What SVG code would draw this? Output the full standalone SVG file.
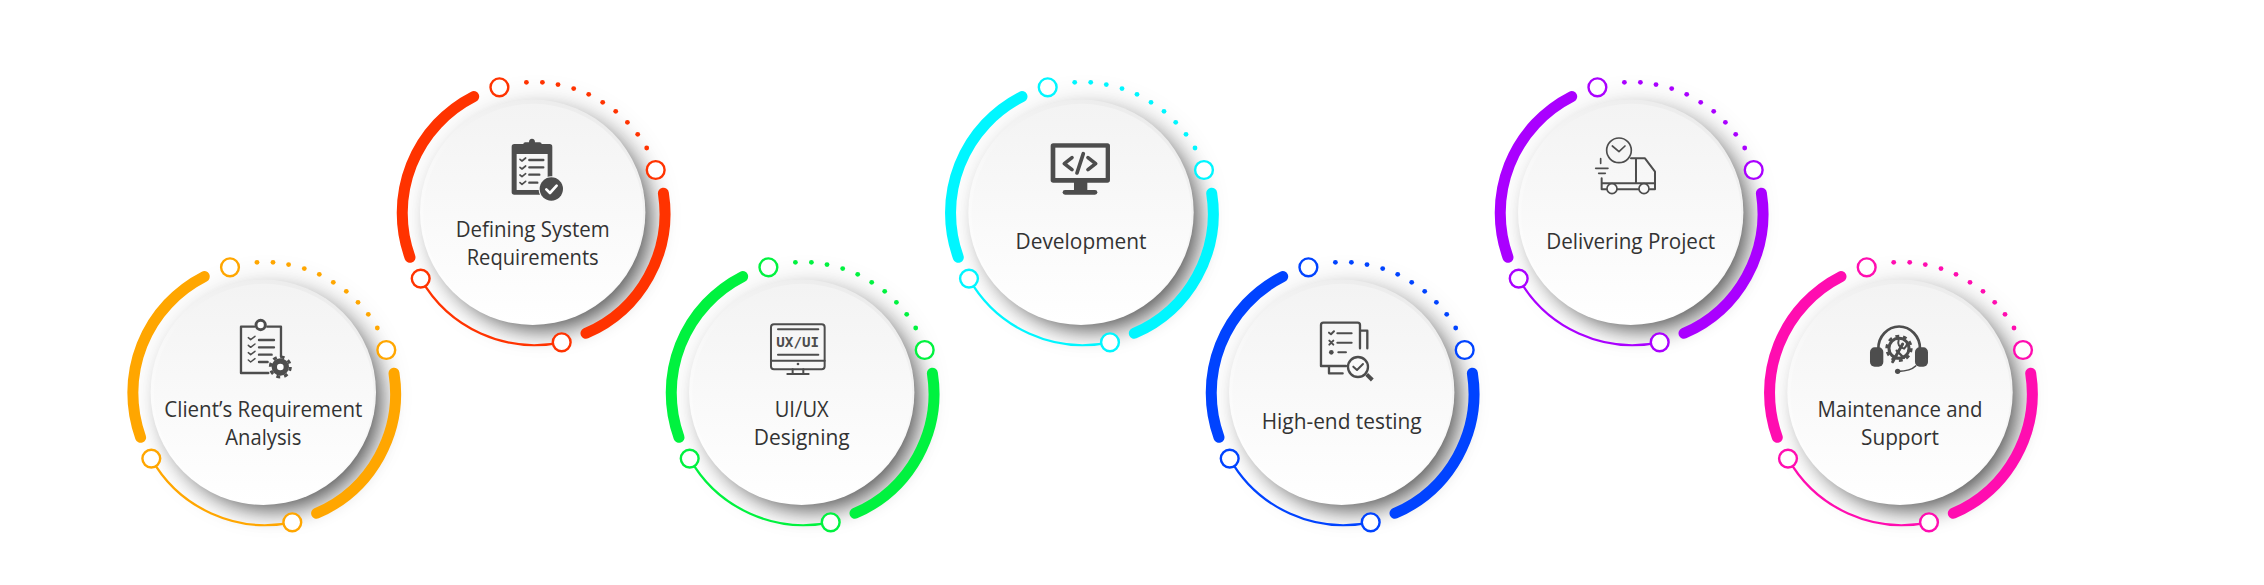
<svg xmlns="http://www.w3.org/2000/svg" width="2264" height="585" viewBox="0 0 2264 585">
<style>
.c1{color:#FFA600}.c2{color:#FF3300}.c3{color:#00F23F}.c4{color:#00F6FF}.c5{color:#0043FF}.c6{color:#AA00FF}.c7{color:#FF0DB0}
.thick{fill:none;stroke:currentColor;stroke-width:11;stroke-linecap:round}
.thin{fill:none;stroke:currentColor;stroke-width:2.2}
.hole{fill:#fff;stroke:currentColor;stroke-width:2.4}
.dot{fill:currentColor}
.label{font-family:"Open Sans","Noto Sans","Liberation Sans",sans-serif;font-size:21.5px;fill:#333;text-anchor:middle}
.ol{fill:none;stroke:#4d4d4d;stroke-linecap:round;stroke-linejoin:round}
.fl{fill:#4d4d4d}
</style>
<defs>
<filter id="blurA" x="-50%" y="-50%" width="200%" height="200%"><feGaussianBlur stdDeviation="11"/></filter>
<filter id="blurB" x="-50%" y="-50%" width="200%" height="200%"><feGaussianBlur stdDeviation="16"/></filter>
<linearGradient id="rim" x1="0.75" y1="0" x2="0.25" y2="1"><stop offset="0" stop-color="#ebebeb"/><stop offset="0.5" stop-color="#f8f8f8"/><stop offset="1" stop-color="#ffffff"/></linearGradient>
<linearGradient id="face" x1="0" y1="0" x2="0" y2="1"><stop offset="0" stop-color="#f3f3f3"/><stop offset="1" stop-color="#ffffff"/></linearGradient>
<g id="disc">
<circle cx="7" cy="4" r="114" fill="#000" opacity=".13" filter="url(#blurB)"/>
<circle cx="10" cy="10" r="107" fill="#000" opacity=".62" filter="url(#blurA)"/>
</g>
<g id="ring">
<path class="thick" d="M-59-115.7A130.5 130.5 0 0 0-122.7 45"/>
<path class="thick" d="M130.7-19A130.5 130.5 0 0 1 53.3 121"/>
<path class="thin" d="M-112 66.3A131 131 0 0 0 29 130"/>
<circle class="hole" cx="-33.3" cy="-125" r="8.9"/>
<circle class="hole" cx="123" cy="-42.3" r="8.9"/>
<circle class="hole" cx="29" cy="130" r="8.9"/>
<circle class="hole" cx="-112" cy="66.3" r="8.9"/>
<g class="dot">
<circle cx="-6.3" cy="-130" r="2.4"/><circle cx="9.7" cy="-130" r="2.4"/><circle cx="25.3" cy="-127.7" r="2.4"/><circle cx="41" cy="-123.7" r="2.4"/><circle cx="56" cy="-118" r="2.4"/><circle cx="70" cy="-110" r="2.4"/><circle cx="83" cy="-101" r="2.4"/><circle cx="94.7" cy="-90" r="2.4"/><circle cx="105" cy="-78" r="2.4"/><circle cx="114" cy="-64.3" r="2.4"/>
</g>
</g>
<g id="face-disc">
<circle r="112.7" fill="url(#rim)"/>
<circle cx="0.5" cy="1.5" r="110" fill="url(#face)"/>
</g>
</defs>

<rect width="2264" height="585" fill="#fff"/>

<g id="shadows">
<use href="#disc" x="263.3" y="392.3"/><use href="#disc" x="532.7" y="212.3"/><use href="#disc" x="801.7" y="392.3"/><use href="#disc" x="1081" y="212.3"/><use href="#disc" x="1341.7" y="392.3"/><use href="#disc" x="1630.7" y="212.3"/><use href="#disc" x="1900" y="392.3"/>
</g>

<g id="node1" class="c1">
<use href="#ring" x="263.3" y="392.3"/><use href="#face-disc" x="263.3" y="392.3"/>
<g transform="translate(110,240) scale(.3333)">
<path class="ol" stroke-width="7" d="M475 399H393V260H432M472 260H513V350"/>
<circle cx="452" cy="255" r="14" fill="#fff" stroke="#4d4d4d" stroke-width="9"/>
<path class="ol" stroke-width="4.5" d="M415 293l7 6 13-10M415 316l7 6 13-10M415 338l7 6 13-10M415 360l7 6 13-10"/>
<path class="ol" stroke-width="7" d="M447 300H492M447 322H492M447 344H485M447 366H473"/>
<circle cx="511" cy="381" r="26" class="fl"/>
<circle cx="511" cy="381" r="30" fill="none" stroke="#4d4d4d" stroke-width="9" stroke-dasharray="11.6 12"/>
<circle cx="511" cy="381" r="10" fill="#fff"/>
</g>
<text class="label" x="263.3" y="416.7" textLength="198" lengthAdjust="spacingAndGlyphs">Client’s Requirement</text>
<text class="label" x="263.3" y="445" textLength="76" lengthAdjust="spacingAndGlyphs">Analysis</text>
</g>

<g id="node2" class="c2">
<use href="#ring" x="532.7" y="212.3"/><use href="#face-disc" x="532.7" y="212.3"/>
<g transform="translate(380,60) scale(.3333)">
<rect x="395" y="252" width="122" height="152" rx="8" class="fl"/>
<path class="fl" d="M430 266V252Q430 247 436 247H447A9 11 0 0 1 465 247H479Q485 247 485 252V266Z"/>
<rect x="410" y="282" width="93" height="108" fill="#f7f7f7"/>
<path class="ol" stroke-width="5" d="M420 298l6 5 11-9M420 322l6 5 11-9M420 345l6 5 11-9M420 368l6 5 11-9"/>
<path class="ol" stroke-width="7" d="M448 300H490M448 322H490M448 344H478M448 368H472"/>
<circle cx="514" cy="387" r="38" fill="#f8f8f8"/>
<circle cx="514" cy="387" r="35" class="fl"/>
<path d="M499 388l11 11 20-22" fill="none" stroke="#fff" stroke-width="8" stroke-linecap="round" stroke-linejoin="round"/>
</g>
<text class="label" x="532.7" y="236.7" textLength="154" lengthAdjust="spacingAndGlyphs">Defining System</text>
<text class="label" x="532.7" y="265" textLength="132" lengthAdjust="spacingAndGlyphs">Requirements</text>
</g>

<g id="node3" class="c3">
<use href="#ring" x="801.7" y="392.3"/><use href="#face-disc" x="801.7" y="392.3"/>
<g transform="translate(650,240) scale(.3333)">
<rect x="363" y="253" width="161" height="135" rx="9" class="ol" stroke-width="6"/>
<path class="ol" stroke-width="6" d="M384 268H505M384 344H505M363 362H524M428 388V402M460 388V402M412 402H476"/>
<circle cx="444" cy="372" r="4" class="fl"/>
<text x="443" y="322" text-anchor="middle" font-family="'DejaVu Sans Mono','Liberation Mono',monospace" font-weight="700" font-size="40" fill="#4d4d4d" textLength="128" lengthAdjust="spacingAndGlyphs">UX/UI</text>
</g>
<text class="label" x="801.7" y="416.7" textLength="54" lengthAdjust="spacingAndGlyphs">UI/UX</text>
<text class="label" x="801.7" y="445" textLength="96" lengthAdjust="spacingAndGlyphs">Designing</text>
</g>

<g id="node4" class="c4">
<use href="#ring" x="1081" y="212.3"/><use href="#face-disc" x="1081" y="212.3"/>
<g transform="translate(930,60) scale(.3333)">
<rect x="362" y="250" width="178" height="118" rx="8" class="fl"/>
<rect x="376" y="263" width="151" height="91" fill="#f6f6f6"/>
<rect x="432" y="366" width="40" height="26" class="fl"/>
<rect x="398" y="390" width="104" height="14" rx="7" class="fl"/>
<path class="ol" stroke-width="11" d="M426 293L403 311L426 329M474 293L497 311L474 329M460 281L441 339"/>
</g>
<text class="label" x="1081" y="249" textLength="131" lengthAdjust="spacingAndGlyphs">Development</text>
</g>

<g id="node5" class="c5">
<use href="#ring" x="1341.7" y="392.3"/><use href="#face-disc" x="1341.7" y="392.3"/>
<g transform="translate(1190,240) scale(.3333)">
<path class="ol" stroke-width="7" d="M468 378H393V255Q393 248 400 248H503Q510 248 510 255V325M512 272H532V325M417 380V400H458"/>
<path class="ol" stroke-width="6" d="M417 278l6 5 9-9M418 302l12 12M430 302l-12 12"/>
<path class="ol" stroke-width="6" d="M442 280H485M442 308H485M445 337H468"/>
<circle cx="424" cy="337" r="7" class="fl"/>
<circle cx="504" cy="381" r="30" fill="#fafafa" stroke="#4d4d4d" stroke-width="7"/>
<path class="ol" stroke-width="6" d="M490 380l11 10 18-18"/>
<path d="M530 403L547 420" fill="none" stroke="#4d4d4d" stroke-width="12"/>
</g>
<text class="label" x="1341.7" y="429" textLength="160" lengthAdjust="spacingAndGlyphs">High-end testing</text>
</g>

<g id="node6" class="c6">
<use href="#ring" x="1630.7" y="212.3"/><use href="#face-disc" x="1630.7" y="212.3"/>
<g transform="translate(1480,60) scale(.3333)">
<circle cx="417" cy="271" r="37" class="ol" stroke-width="5"/>
<path class="ol" stroke-width="5" d="M397 258L417 275L435 258"/>
<path class="ol" stroke-width="6" d="M453 295H495L525 335V388H510M468 295V370M365 370H525M365 355V388H380M412 388H476"/>
<circle cx="396" cy="386" r="15" fill="#fafafa" stroke="#4d4d4d" stroke-width="5"/>
<circle cx="492" cy="386" r="15" fill="#fafafa" stroke="#4d4d4d" stroke-width="5"/>
<path class="ol" stroke-width="5" d="M347 325H384M356 340H376M362 296V310"/>
</g>
<text class="label" x="1630.7" y="249" textLength="169" lengthAdjust="spacingAndGlyphs">Delivering Project</text>
</g>

<g id="node7" class="c7">
<use href="#ring" x="1900" y="392.3"/><use href="#face-disc" x="1900" y="392.3"/>
<g transform="translate(1750,240) scale(.3333)">
<path class="ol" stroke-width="8" d="M385 326A62 66 0 0 1 510 326"/>
<rect x="360" y="322" width="40" height="58" rx="14" class="fl"/>
<rect x="495" y="322" width="39" height="58" rx="14" class="fl"/>
<path class="ol" stroke-width="5" d="M497 378Q482 393 445 394"/>
<circle cx="443" cy="394" r="8" class="fl"/>
<circle cx="447" cy="325" r="30" fill="none" stroke="#4d4d4d" stroke-width="9"/>
<circle cx="447" cy="325" r="37" fill="none" stroke="#4d4d4d" stroke-width="8" stroke-dasharray="11.6 11.6"/>
<path class="ol" stroke-width="9" d="M428 365L458 312"/>
<path class="ol" stroke-width="6" d="M446 300Q440 320 462 326Q472 318 472 306"/>
<path class="ol" stroke-width="7" d="M440 332L462 354"/>
</g>
<text class="label" x="1900" y="416.7" textLength="165" lengthAdjust="spacingAndGlyphs">Maintenance and</text>
<text class="label" x="1900" y="445" textLength="78" lengthAdjust="spacingAndGlyphs">Support</text>
</g>
</svg>
